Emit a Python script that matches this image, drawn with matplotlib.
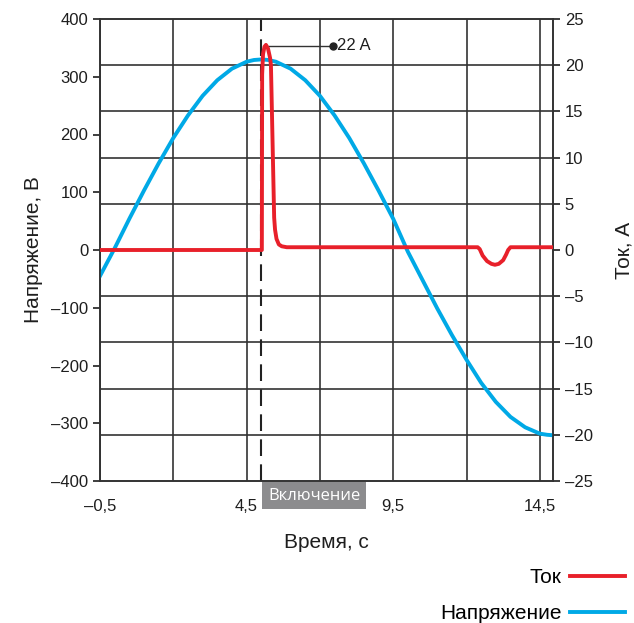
import matplotlib
matplotlib.use("Agg")
import matplotlib.pyplot as plt

plt.rcParams['font.family'] = ['Liberation Sans', 'DejaVu Sans']

# напряжение (В)
t_volt = [-0.5, 0.0, 0.5, 1.0, 1.5, 2.0, 2.5, 3.0, 3.5, 4.0, 4.5, 4.75, 5.0,
          5.25, 5.5, 6.0, 6.5, 7.0, 7.5, 8.0, 8.5, 9.0, 9.5, 10.0, 10.5,
          11.0, 11.5, 12.0, 12.5, 13.0, 13.5, 14.0, 14.5, 14.75, 15.0]
volt = [-45, 3, 54, 103, 150, 194, 233, 267, 294, 314, 326, 329, 330,
        329, 326, 314, 294, 267, 233, 194, 150, 103, 54, -3, -52,
        -101, -147, -190, -230, -263, -289, -307, -318, -320, -321]

# ток (А)
t_cur = [-0.5, 5.02, 5.03, 5.06, 5.11, 5.16, 5.23, 5.30, 5.33, 5.37, 5.41,
         5.44, 5.47, 5.52, 5.6, 5.7, 5.87, 12.38, 12.45, 12.55, 12.7,
         12.85, 12.97, 13.1, 13.25, 13.35, 13.42, 13.5, 15.0]
cur = [0, 0, 19, 21.2, 22, 22.2, 21.8, 20.8, 20, 14, 8,
       3.5, 2.2, 1.2, 0.6, 0.4, 0.3, 0.3, 0.1, -0.6, -1.2,
       -1.5, -1.6, -1.5, -1.1, -0.5, 0.0, 0.3, 0.3]

t_switch = 5.0
peak_label = '22 A'

x_ticks = [-0.5, 2, 4.5, 7, 9.5, 12, 14.5]
x_labels = ['–0,5', '', '4,5', '', '9,5', '', '14,5']
v_ticks = [-400, -300, -200, -100, 0, 100, 200, 300, 400]
v_labels = ['–400', '–300', '–200', '–100', '0', '100', '200', '300', '400']
i_ticks = [-25, -20, -15, -10, -5, 0, 5, 10, 15, 20, 25]
i_labels = ['–25', '–20', '–15', '–10', '–5', '0', '5', '10', '15', '20', '25']

red = '#e8202a'
blue = '#00a9e6'
gridc = '#333333'
txtc = '#1e1e1e'

fig = plt.figure(figsize=(6.34, 6.23), dpi=100)
ax = fig.add_axes([100/634, 1-481/623, 453/634, 462/623])
ax2 = ax.twinx()

ax.set_xlim(-0.5, 14.95)
ax.set_ylim(-400, 400)
ax2.set_ylim(-25, 25)

# сетка по делениям тока
ax.set_yticks([v * 16 for v in i_ticks[1:-1]], minor=True)
ax.tick_params(axis='y', which='minor', length=0)
ax.grid(True, which='minor', axis='y', color=gridc, lw=1.2)
ax.set_xticks(x_ticks)
ax.set_xticklabels(x_labels)
ax.grid(True, which='major', axis='x', color=gridc, lw=1.2)
ax.tick_params(axis='x', length=0, labelsize=12, pad=13, colors=txtc)

ax.set_yticks(v_ticks)
ax.set_yticklabels(v_labels)
ax.tick_params(axis='y', which='major', length=5, width=1.2, labelsize=12,
               colors=txtc)
ax2.set_yticks(i_ticks)
ax2.set_yticklabels(i_labels)
ax2.tick_params(axis='y', length=5, width=1.2, labelsize=12, colors=txtc)

for a in (ax, ax2):
    for s in a.spines.values():
        s.set_color(gridc)
        s.set_linewidth(1.2)

ax.plot(t_volt, volt, color=blue, lw=2.8, label='Напряжение', zorder=3)
ax.axvline(t_switch, color='#222222', lw=1.5, dashes=(8, 4), zorder=4)
ln_cur, = ax2.plot(t_cur, cur, color=red, lw=2.8, label='Ток', zorder=5)

# выноска пикового значения
i_pk = cur.index(max(cur))
t_pk = t_cur[i_pk]
x_dot = t_pk + 2.27
ax2.plot([t_pk, x_dot], [max(cur) - 0.1] * 2, color='#333333', lw=1)
ax2.plot(x_dot, max(cur) - 0.1, 'o', color='#222222', ms=5)
ax2.text(x_dot + 0.15, max(cur) - 0.1, peak_label, fontsize=12,
         va='center', ha='left', color=txtc)

ax.annotate('Включение', xy=(t_switch, 0), xycoords=('data', 'axes fraction'),
            xytext=(5, -10.5), textcoords='offset points', ha='left', va='center',
            fontsize=12, family=['Open Sans', 'DejaVu Sans'], color='white',
            bbox=dict(boxstyle='square,pad=0.35', fc='#8c8c8e', ec='none'),
            zorder=6, annotation_clip=False)

ax.set_ylabel('Напряжение, В', fontsize=15, labelpad=6, color=txtc)
ax2.set_ylabel('Ток, А', fontsize=15, color=txtc)
ax2.yaxis.set_label_coords(1.135, 0.5)
ax.set_xlabel('Время, с', fontsize=15, labelpad=14, color=txtc)

h_v = ax.get_lines()[0]
fig.legend([ln_cur, h_v], ['Ток', 'Напряжение'], loc='lower right',
           bbox_to_anchor=(1.016, -0.03), markerfirst=False, frameon=False,
           fontsize=15, handlelength=2.65, handletextpad=0.4,
           labelspacing=0.8)

fig.savefig('out.png', dpi=100)
